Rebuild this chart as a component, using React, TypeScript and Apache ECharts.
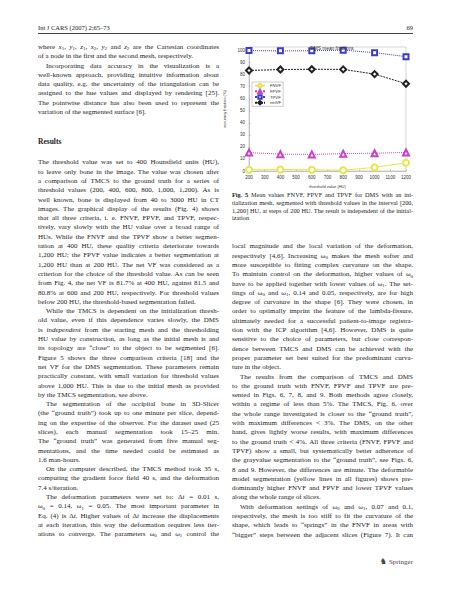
import { useEffect, useLayoutEffect, useRef } from "react"
import * as echarts from "echarts"

// DMS mean fractions (Fig. 5)
const thresholds = [200, 400, 600, 800, 1000, 1200]
const fnvf = [1, 1.3, 1, 0.6, 3, 6.8]
const fpvf = [15.3, 14, 13.8, 14.4, 14.8, 15.4]
const tpvf = [100, 99.8, 99.9, 100.4, 98.3, 95]
const netVf = [83.5, 84.3, 84.5, 84.4, 80.5, 72.5]

const LH = 9.3

// page text; ">" = indented first line, "|" = paragraph end (no justify)
// *x* italic, _{0} subscript, #..# bold
const leftTop = [
  "where *x*_{1}, *y*_{1}, *z*_{1}, *x*_{2}, *y*_{2} and *z*_{2} are the Cartesian coordinates",
  "of a node in the first and the second mesh, respectively.|",
  ">Incorporating data accuracy in the visualization is a",
  "well-known approach, providing intuitive information about",
  "data quality, e.g. the uncertainty of the triangulation can be",
  "assigned to the hue values and displayed by rendering [25].",
  "The pointwise distance has also been used to represent the",
  "variation of the segmented surface [6].|",
]

const leftBody = [
  "The threshold value was set to 400 Hounsfield units (HU),",
  "to leave only bone in the image. The value was chosen after",
  "a comparison of TMCS to the ground truth for a series of",
  "threshold values (200, 400, 600, 800, 1,000, 1,200). As is",
  "well known, bone is displayed from 40 to 3000 HU in CT",
  "images. The graphical display of the results (Fig. 4) shows",
  "that all three criteria, i. e. FNVF, FPVF, and TPVF, respec-",
  "tively, vary slowly with the HU value over a broad range of",
  "HUs. While the FNVF and the TPVF show a better segmen-",
  "tation at 400 HU, these quality criteria deteriorate towards",
  "1,200 HU; the FPVF value indicates a better segmentation at",
  "1,200 HU than at 200 HU. The net VF was considered as a",
  "criterion for the choice of the threshold value. As can be seen",
  "from Fig. 4, the net VF is 81.7% at 400 HU, against 81.5 and",
  "80.8% at 600 and 200 HU, respectively. For threshold values",
  "below 200 HU, the threshold-based segmentation failed.|",
  ">While the TMCS is dependent on the initialization thresh-",
  "old value, even if this dependence varies slowly, the DMS",
  "is *independent* from the starting mesh and the thresholding",
  "HU value by construction, as long as the initial mesh is and",
  "its topology are \u201cclose\u201d to the object to be segmented [6].",
  "Figure 5 shows the three comparison criteria [18] and the",
  "net VF for the DMS segmentation. These parameters remain",
  "practically constant, with small variation for threshold values",
  "above 1,000 HU. This is due to the initial mesh as provided",
  "by the TMCS segmentation, see above.|",
  ">The segmentation of the occipital bone in 3D-Slicer",
  "(the \u201cground truth\u201d) took up to one minute per slice, depend-",
  "ing on the expertise of the observer. For the dataset used (25",
  "slices), each manual segmentation took 15\u201325 min.",
  "The \u201cground truth\u201d was generated from five manual seg-",
  "mentations, and the time needed could be estimated as",
  "1.6 man-hours.|",
  ">On the computer described, the TMCS method took 35 s,",
  "computing the gradient force field 40 s, and the deformation",
  "7.4 s/iteration.|",
  ">The deformation parameters were set to: \u0394*t* = 0.01 s,",
  "\u03c9_{0} = 0.14, \u03c9_{1} = 0.05. The most important parameter in",
  "Eq. (4) is \u0394*t*. Higher values of \u0394*t* increase the displacements",
  "at each iteration, this way the deformation requires less iter-",
  "ations to converge. The parameters \u03c9_{0} and \u03c9_{1} control the",
]

const caption = [
  "#Fig. 5# Mean values FNVF, FPVF and TPVF for DMS with an ini-",
  "tialization mesh, segmented with threshold values in the interval [200,",
  "1,200] HU, at steps of 200 HU. The result is independent of the initial-",
  "ization|",
]

const rightBody = [
  "local magnitude and the local variation of the deformation,",
  "respectively [4,6]. Increasing \u03c9_{0} makes the mesh softer and",
  "more susceptible to fitting complex curvature on the shape.",
  "To maintain control on the deformation, higher values of \u03c9_{0}",
  "have to be applied together with lower values of \u03c9_{1}. The set-",
  "tings of \u03c9_{0} and \u03c9_{1}, 0.14 and 0.05, respectively, are for high",
  "degree of curvature in the shape [6]. They were chosen, in",
  "order to optimally imprint the feature of the lambda-fissure,",
  "ultimately needed for a successful patient-to-image registra-",
  "tion with the ICP algorithm [4,6]. However, DMS is quite",
  "sensitive to the choice of parameters, but close correspon-",
  "dence between TMCS and DMS can be achieved with the",
  "proper parameter set best suited for the predominant curva-",
  "ture in the object.|",
  ">The results from the comparison of TMCS and DMS",
  "to the ground truth with FNVF, FPVF and TPVF are pre-",
  "sented in Figs. 6, 7, 8, and 9. Both methods agree closely,",
  "within a regime of less than 5%. The TMCS, Fig. 6, over",
  "the whole range investigated is closer to the \u201cground truth\u201d,",
  "with maximum differences < 3%. The DMS, on the other",
  "hand, gives lightly worse results, with maximum differences",
  "to the ground truth < 4%. All three criteria (FNVF, FPVF and",
  "TPVF) show a small, but systematically better adherence of",
  "the grayvalue segmentation to the \u201cground truth\u201d, see Figs. 6,",
  "8 and 9. However, the differences are minute. The deformable",
  "model segmentation (yellow lines in all figures) shows pre-",
  "dominantly higher FNVF and FPVF and lower TPVF values",
  "along the whole range of slices.|",
  ">With deformation settings of \u03c9_{0} and \u03c9_{1}, 0.07 and 0.1,",
  "respectively, the mesh is too stiff to fit the curvature of the",
  "shape, which leads to \u201csprings\u201d in the FNVF in areas with",
  "\u201cbigger\u201d steps between the adjacent slices (Figure 7). It can",
]

function markup(s: string) {
  return s.split(/(\*[^*]+\*|_\{[^}]+\}|#[^#]+#)/).map((p, i) => {
    if (p.startsWith("*")) return <i key={i}>{p.slice(1, -1)}</i>
    if (p.startsWith("#")) return <b key={i}>{p.slice(1, -1)}</b>
    if (p.startsWith("_{"))
      return (
        <span key={i} style={{ fontSize: "0.7em", position: "relative", top: "0.25em" }}>
          {p.slice(2, -1)}
        </span>
      )
    return p
  })
}

function Line({ src, width, lh }: { src: string; width: number; lh: number }) {
  const ref = useRef<HTMLSpanElement>(null)
  const indent = src.startsWith(">") ? 8 : 0
  const last = src.endsWith("|")
  const text = src.replace(/^>/, "").replace(/\|$/, "")
  useLayoutEffect(() => {
    const el = ref.current
    if (!el || last) return
    el.style.wordSpacing = "0px"
    const w = el.getBoundingClientRect().width
    const spaces = (el.textContent || "").split(" ").length - 1
    if (spaces > 0) el.style.wordSpacing = `${(width - indent - w) / spaces}px`
  }, [src, width])
  return (
    <div style={{ height: lh, whiteSpace: "nowrap", paddingLeft: indent }}>
      <span ref={ref}>{markup(text)}</span>
    </div>
  )
}

function Column({
  lines, left, top, width = 181, lh = LH, size = 7,
}: { lines: string[]; left: number; top: number; width?: number; lh?: number; size?: number }) {
  return (
    <div style={{ position: "absolute", left, top, width, fontSize: size, lineHeight: `${lh}px` }}>
      {lines.map((s, i) => <Line key={i} src={s} width={width} lh={lh} />)}
    </div>
  )
}

function DmsChart() {
  const ref = useRef<HTMLDivElement>(null)

  useEffect(() => {
    const chart = echarts.init(ref.current!, undefined, { renderer: "svg" })
    const mk = (name: string, data: number[], color: string, symbol: string, size: number, type: any) => ({
      name,
      type: "line",
      data: thresholds.map((t, i) => [t, data[i]]),
      symbol,
      symbolSize: size,
      showAllSymbol: true,
      lineStyle: { color, width: 1, type },
      itemStyle: { color, borderColor: color, borderWidth: 1.1 },
    })
    const small = { fontSize: 4.5, color: "#333", fontFamily: "Liberation Sans" }
    chart.setOption({
      animation: false,
      title: {
        text: "DMS mean fractions",
        left: 127,
        top: 10.5,
        textAlign: "center",
        textStyle: { ...small, fontSize: 4.8, fontWeight: "normal" },
      },
      legend: {
        orient: "vertical",
        left: 52,
        top: 52,
        itemGap: 0.3,
        itemWidth: 10,
        itemHeight: 4.2,
        padding: [1, 2],
        borderColor: "#999",
        borderWidth: 0.5,
        backgroundColor: "#fff",
        textStyle: { ...small, fontSize: 4.2 },
      },
      grid: {
        left: 49,
        right: 24,
        top: 17,
        bottom: 24,
        containLabel: false,
        outerBoundsMode: "none",
        show: true,
        borderColor: "#aaa",
        borderWidth: 0.5,
      },
      xAxis: {
        type: "value",
        min: 200,
        max: 1200,
        interval: 100,
        name: "threshold value (HU)",
        nameLocation: "middle",
        nameGap: 10,
        nameTextStyle: { ...small, fontSize: 4 },
        axisLine: { lineStyle: { color: "#999", width: 0.5 } },
        axisTick: { inside: true, length: 1.5, lineStyle: { color: "#999", width: 0.5 } },
        axisLabel: { ...small, margin: 3.5, formatter: (v: number) => String(v) },
        splitLine: { show: false },
      },
      yAxis: {
        type: "value",
        min: 0,
        max: 103,
        interval: 10,
        name: "accuracy fraction (%)",
        nameLocation: "middle",
        nameGap: 15,
        nameTextStyle: { ...small, fontSize: 4 },
        axisLine: { show: true, lineStyle: { color: "#999", width: 0.5 } },
        axisTick: { inside: true, length: 1.5, lineStyle: { color: "#999", width: 0.5 } },
        axisLabel: { ...small, margin: 4, showMaxLabel: false, formatter: (v: number) => String(v) },
        splitLine: { show: false },
      },
      series: [
        mk("FNVF", fnvf, "#e6e64a", "emptyCircle", 6, "solid"),
        mk("FPVF", fpvf, "#cc3fcc", "emptyTriangle", 6, "dotted"),
        mk("TPVF", tpvf, "#3c3cc8", "emptyRect", 5, "dotted"),
        mk("netVF", netVf, "#222222", "emptyDiamond", 6, [2, 1]),
      ],
    })
    return () => chart.dispose()
  }, [])

  return <div ref={ref} style={{ position: "absolute", left: 200, top: 30, width: 230, height: 165 }} />
}

export default function App() {
  return (
    <div
      style={{
        position: "absolute",
        left: 0,
        top: 0,
        width: 451,
        height: 599,
        background: "#fff",
        overflow: "hidden",
        color: "#222",
        fontFamily: "'Liberation Serif', 'DejaVu Serif', serif",
      }}
    >
      <div style={{ position: "absolute", left: 38, top: 24, fontSize: 6.5, lineHeight: "8px" }}>
        Int J CARS (2007) 2:65–73
      </div>
      <div style={{ position: "absolute", right: 38, top: 24, fontSize: 6.5, lineHeight: "8px" }}>69</div>
      <div style={{ position: "absolute", left: 38, top: 32.5, width: 375, height: 1.3, background: "#444" }} />

      <Column lines={leftTop} left={38} top={43} />
      <div style={{ position: "absolute", left: 38, top: 137, fontSize: 7.5, lineHeight: "10px", fontWeight: "bold" }}>
        Results
      </div>
      <Column lines={leftBody} left={38} top={158.4} />

      <DmsChart />
      <Column lines={caption} left={232} top={191.2} lh={7.7} size={6.3} />
      <Column lines={rightBody} left={232} top={242.4} />

      <div style={{ position: "absolute", right: 38, top: 557, fontSize: 7, lineHeight: "10px", color: "#444" }}>
        <span style={{ fontFamily: "'DejaVu Sans'", fontSize: 8, marginRight: 2 }}>♞</span>Springer
      </div>
    </div>
  )
}
